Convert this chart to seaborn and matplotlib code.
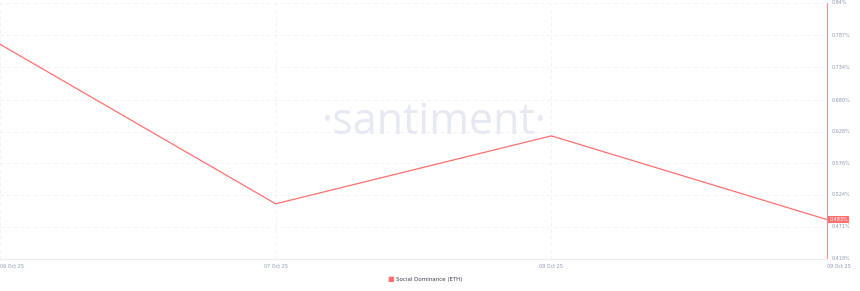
import matplotlib
matplotlib.use("Agg")
import matplotlib.pyplot as plt
import seaborn as sns
import pandas as pd

# ---- data ----
dates = ["2025-10-06", "2025-10-07", "2025-10-08", "2025-10-09"]
date_labels = ["06 Oct 25", "07 Oct 25", "08 Oct 25", "09 Oct 25"]
social_dominance = [0.772, 0.509, 0.621, 0.483]
y_ticks = [0.418, 0.471, 0.524, 0.576, 0.628, 0.680, 0.734, 0.787, 0.84]
y_tick_labels = ["0.418%", "0.471%", "0.524%", "0.576%", "0.628%",
                 "0.680%", "0.734%", "0.787%", "0.84%"]
series_name = "Social Dominance (ETH)"
last_label = "0.483%"

df = pd.DataFrame({"date": pd.to_datetime(dates), "value": social_dominance})

LINE = "#ff6f6f"
TXT = "#8d97ad"
GRID = "#eef0f4"

sns.set_theme(style="white")
plt.rcParams["font.family"] = ["DejaVu Sans"]

W, H = 860, 291
fig = plt.figure(figsize=(W / 100, H / 100), dpi=100)
ax = fig.add_axes([0, (H - 259) / H, 827 / W, 256 / H])

# watermark
fig.text(434 / W, 1 - 123 / H, "\u00b7santiment\u00b7", ha="center", va="center",
         fontsize=31, color="#e6e9f2", family=["Open Sans", "DejaVu Sans"], zorder=0)

sns.lineplot(data=df, x="date", y="value", ax=ax, color=LINE, linewidth=0.9,
             legend=False, zorder=3)

ax.set_xlim(df["date"].iloc[0], df["date"].iloc[-1])
ax.set_ylim(y_ticks[0], y_ticks[-1])
ax.patch.set_alpha(0)

# grid
for yv in y_ticks:
    ax.axhline(yv, color=GRID, lw=0.6, ls=(0, (4, 4)), zorder=1)
for d in df["date"].iloc[:-1]:
    ax.axvline(d, color=GRID, lw=0.6, ls=(0, (4, 4)), zorder=1)

# right axis line in series colour
ax.axvline(df["date"].iloc[-1], color="#ff8c8c", lw=0.8, zorder=2, clip_on=False)

ax.set_xticks([])
ax.set_yticks([])
ax.set_xlabel("")
ax.set_ylabel("")
for s in ["top", "left", "right"]:
    ax.spines[s].set_visible(False)
ax.spines["bottom"].set_color("#eceef2")
ax.spines["bottom"].set_linewidth(0.8)

# y tick labels on the right
trans_y = ax.get_yaxis_transform()
for yv, lab in zip(y_ticks, y_tick_labels):
    ax.text(1.006, yv, lab, transform=trans_y, ha="left", va="center",
            fontsize=3.5, color=TXT, clip_on=False)

# x tick labels
trans_x = ax.get_xaxis_transform()
for i, (d, lab) in enumerate(zip(df["date"], date_labels)):
    ha = "center"
    if i == 0 or i == len(date_labels) - 1:
        ha = "left"
    ax.text(d, -0.02, lab, transform=trans_x, ha=ha, va="top",
            fontsize=3.5, color=TXT, clip_on=False)

# last value label
ax.text(1.003, social_dominance[-1], last_label, transform=trans_y, ha="left",
        va="center", fontsize=3.5, color="white", clip_on=False,
        bbox=dict(boxstyle="square,pad=0.25", fc=LINE, ec="none"))

# legend
fig.text(391 / W, 1 - 279 / H, "\u25a0", ha="center", va="center",
         fontsize=5, color=LINE)
fig.text(396 / W, 1 - 279 / H, series_name, ha="left", va="center",
         fontsize=4.0, color="#3a3f4b")

fig.savefig("out.png", dpi=100, facecolor="white")
